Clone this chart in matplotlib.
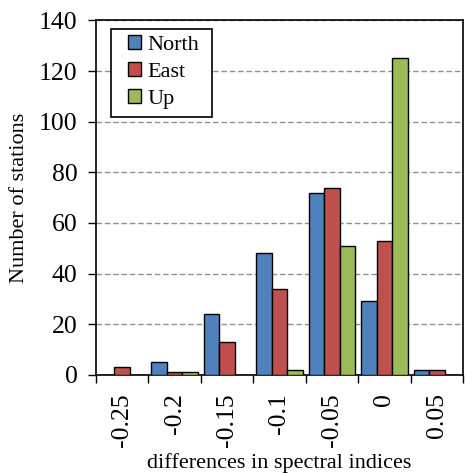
import numpy as np
import matplotlib.pyplot as plt
from matplotlib.patches import Rectangle
from matplotlib.ticker import FixedLocator, NullFormatter

plt.rcParams['font.family'] = ['Liberation Serif', 'DejaVu Serif']

categories = ['-0.25', '-0.2', '-0.15', '-0.1', '-0.05', '0', '0.05']
north = [0, 5, 24, 48, 72, 29, 2]
east = [3, 1, 13, 34, 74, 53, 2]
up = [0, 1, 0, 2, 51, 125, 0]

series = [('North', north, '#4F81BD'),
          ('East', east, '#C0504D'),
          ('Up', up, '#9BBB59')]

fig = plt.figure(figsize=(4.65, 4.74), dpi=100)
ax = fig.add_axes([0.206, 0.209, 0.79, 0.748])

x = np.arange(len(categories))
w = 0.295
for i, (name, vals, col) in enumerate(series):
  ax.bar(x + (i - 1) * w, vals, w, color=col, edgecolor='black',
         linewidth=1.0, label=name, zorder=3)

ax.set_xlim(-0.5, len(categories) - 0.5)
ax.set_ylim(0, 140)
ax.set_yticks(np.arange(0, 141, 20))
ax.yaxis.grid(True, linestyle=(0, (4, 2)), color='#909090', linewidth=1.0, zorder=0)

ax.set_xticks(x)
ax.set_xticklabels(categories, rotation=90, fontsize=18.5)
ax.tick_params(axis='x', which='major', length=0, pad=13)
ax.xaxis.set_minor_locator(FixedLocator(np.arange(-0.5, len(categories), 1.0)))
ax.xaxis.set_minor_formatter(NullFormatter())
ax.tick_params(axis='x', which='minor', length=6, direction='out', width=1)
ax.tick_params(axis='y', labelsize=18.5, length=6, direction='out', width=1, pad=7)

for s in ax.spines.values():
  s.set_linewidth(1.2)

ax.set_xlabel('differences in spectral indices', fontsize=16)
ax.xaxis.set_label_coords(0.5, -0.248)
ax.xaxis.label.set_verticalalignment('center')
ax.set_ylabel('Number of stations', fontsize=16, labelpad=7)

# legend box drawn separately so the padding can match
ax.add_patch(Rectangle((0.0405, 0.728), 0.2755, 0.2486, transform=ax.transAxes,
                       facecolor='white', edgecolor='black', linewidth=1.2, zorder=4))
leg = ax.legend(loc='upper left', bbox_to_anchor=(0.089, 0.959), borderaxespad=0,
                fontsize=16, frameon=False, borderpad=0,
                handlelength=0.57, handleheight=0.57, handletextpad=0.3,
                labelspacing=0.33)
leg.set_zorder(5)

fig.savefig('out.png', dpi=100)
